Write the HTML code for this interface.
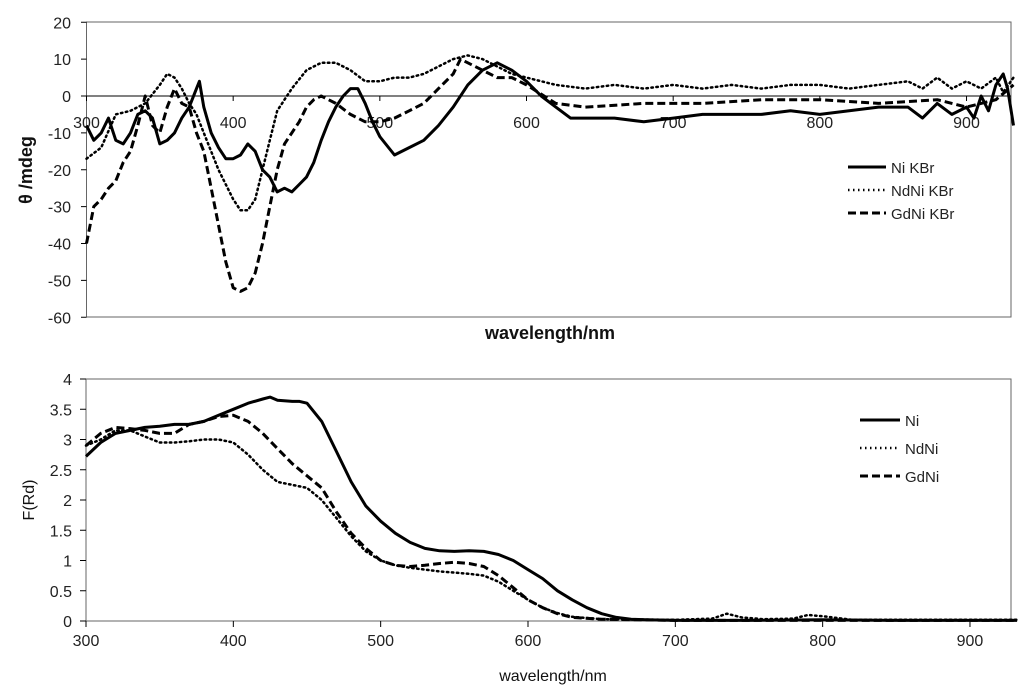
<!DOCTYPE html>
<html><head><meta charset="utf-8"><style>
html,body{margin:0;padding:0;background:#fff;}
svg{display:block;font-family:"Liberation Sans",sans-serif;}
</style></head><body>
<svg id="chart" width="1024" height="692" viewBox="0 0 1024 692" xmlns="http://www.w3.org/2000/svg">
<rect x="0" y="0" width="1024" height="692" fill="#fff"/>
<g id="top"></g>
<g id="bot"></g>
</svg>
<script>
// ---- top chart data (CD) ----
const niKBrX = [300,305,310,315,320,325,330,335,340,345,350,355,360,365,370,375,377,380,385,390,395,400,405,410,415,420,425,430,435,440,445,450,455,460,465,470,475,480,485,490,495,500,510,520,530,540,550,560,570,580,590,600,610,620,630,640,660,680,700,720,740,760,780,800,820,840,860,870,880,890,900,905,910,915,920,925,928,932];
const niKBrY = [-8,-12,-10,-6,-12,-13,-10,-5,-4,-6,-13,-12,-10,-6,-3,2,4,-3,-10,-14,-17,-17,-16,-13,-15,-20,-22,-26,-25,-26,-24,-22,-18,-12,-7,-3,0,2,2,-2,-7,-11,-16,-14,-12,-8,-3,3,7,9,7,4,0,-3,-6,-6,-6,-7,-6,-5,-5,-5,-4,-5,-4,-3,-3,-6,-2,-5,-3,-6,0,-4,3,6,2,-8];
const ndKBrX = [300,310,320,330,340,350,355,360,365,370,375,380,390,400,405,410,415,420,425,430,440,450,460,470,480,490,500,510,520,530,540,550,560,570,580,590,600,620,640,660,680,700,720,740,760,780,800,820,840,860,870,880,890,900,910,920,925,932];
const ndKBrY = [-17,-14,-5,-4,-2,3,6,5,2,-2,-5,-10,-20,-28,-31,-31,-28,-20,-12,-4,2,7,9,9,7,4,4,5,5,6,8,10,11,10,8,6,5,3,2,3,2,3,2,3,2,3,3,2,3,4,2,5,2,4,2,5,1,5];
const gdKBrX = [300,305,310,315,320,325,330,335,340,345,350,355,360,365,370,375,380,385,390,395,400,405,410,415,420,425,430,435,440,445,450,455,460,470,480,490,500,510,520,530,540,550,555,560,570,580,590,600,620,640,680,720,760,800,840,880,900,920,932];
const gdKBrY = [-40,-30,-28,-25,-23,-18,-15,-8,0,-8,-10,-3,2,-2,-3,-10,-15,-25,-35,-45,-52,-53,-52,-48,-40,-30,-20,-13,-10,-7,-3,-1,0,-2,-5,-7,-7,-6,-4,-2,2,6,10,9,7,5,5,3,-2,-3,-2,-2,-1,-1,-2,-1,-3,-1,3];
const topYTicks = [20,10,0,-10,-20,-30,-40,-50,-60];
const topXTicks = [300,400,500,600,700,800,900];
// ---- bottom chart data (F(Rd)) ----
const niX = [300,310,320,330,340,350,360,370,380,390,400,410,420,425,430,440,445,450,460,470,480,490,500,510,520,530,540,550,560,570,580,590,600,610,620,630,640,650,660,670,680,700,750,800,850,900,932];
const niY = [2.72,2.95,3.1,3.15,3.2,3.22,3.25,3.25,3.3,3.4,3.5,3.6,3.67,3.7,3.65,3.63,3.63,3.6,3.3,2.8,2.3,1.9,1.65,1.45,1.3,1.2,1.16,1.15,1.16,1.15,1.1,1.0,0.85,0.7,0.5,0.35,0.22,0.12,0.06,0.03,0.02,0.01,0.01,0.02,0.01,0.01,0.01];
const ndX = [300,310,320,330,340,350,360,370,380,390,400,410,420,430,440,450,460,470,480,490,500,510,520,530,540,550,560,570,580,590,600,610,620,630,650,700,725,735,745,760,780,790,800,820,860,900,932];
const ndY = [2.9,3.0,3.15,3.15,3.05,2.95,2.95,2.97,3.0,3.0,2.95,2.75,2.5,2.3,2.25,2.2,2.0,1.7,1.4,1.15,1.0,0.92,0.88,0.85,0.82,0.8,0.78,0.75,0.65,0.5,0.35,0.22,0.13,0.07,0.03,0.02,0.04,0.12,0.06,0.03,0.04,0.1,0.08,0.02,0.02,0.02,0.02];
const gdX = [300,310,320,330,340,350,360,370,380,390,400,410,420,430,440,450,460,470,480,490,500,510,520,530,540,550,560,570,580,590,600,610,620,630,650,700,800,932];
const gdY = [2.9,3.1,3.2,3.18,3.15,3.1,3.1,3.25,3.3,3.38,3.4,3.3,3.1,2.85,2.6,2.4,2.2,1.8,1.45,1.2,1.0,0.92,0.9,0.92,0.95,0.97,0.95,0.9,0.75,0.55,0.35,0.22,0.12,0.06,0.03,0.01,0.01,0.01];
const botYTicks = [0,0.5,1,1.5,2,2.5,3,3.5,4];
const botXTicks = [300,400,500,600,700,800,900];

const NS='http://www.w3.org/2000/svg';
function mk(parent,tag,attrs,txt){const e=document.createElementNS(NS,tag);for(const k in attrs)e.setAttribute(k,attrs[k]);if(txt!==undefined)e.textContent=txt;parent.appendChild(e);return e;}
const styles={solid:{w:3,d:''},dot:{w:2.5,d:'1.5 3.5'},dash:{w:3,d:'8 4'}};

// top chart
const T=document.getElementById('top');
const tx=v=>86.5+(v-300)*1.4667, ty=v=>96-(v)*3.6875;
let r=mk(T,'rect',{x:86.5,y:22,width:924.5,height:295,fill:'none',stroke:'#666','stroke-width':1});

let z=mk(T,'line',{x1:86.5,x2:1011,y1:ty(0),y2:ty(0),stroke:'#000','stroke-width':1});

topYTicks.forEach(v=>{
  let l=mk(T,'line',{x1:81,x2:86.5,y1:ty(v),y2:ty(v),stroke:'#000'});
  
  let t=mk(T,'text',{x:71,y:ty(v)+6,'text-anchor':'end','font-size':16,fill:'#222'},String(v));
  
});
topXTicks.forEach(v=>{
  let l=mk(T,'line',{x1:tx(v),x2:tx(v),y1:ty(0),y2:ty(0)+5,stroke:'#000'});
  
  let t=mk(T,'text',{x:tx(v),y:ty(0)+32,'text-anchor':'middle','font-size':16,fill:'#222'},String(v));
  
});
function series(G,xs,ys,fx,fy,st,name){
  const s=styles[st];
  let p=mk(G,'path',{d:xs.map((x,i)=>(i?'L':'M')+fx(x).toFixed(1)+','+fy(ys[i]).toFixed(1)).join(''),fill:'none',stroke:'#000','stroke-width':s.w,'stroke-dasharray':s.d,'stroke-linejoin':'round','stroke-linecap':st==='dot'?'round':'butt'});
  
}
series(T,niKBrX,niKBrY,tx,ty,'solid','ni-kbr-line');
series(T,ndKBrX,ndKBrY,tx,ty,'dot','ndni-kbr-line');
series(T,gdKBrX,gdKBrY,tx,ty,'dash','gdni-kbr-line');
let xt=mk(T,'text',{x:550,y:339,'text-anchor':'middle','font-size':18,'font-weight':'bold',fill:'#111'},'wavelength/nm');

let yt=mk(T,'text',{x:0,y:0,transform:'translate(32,170) rotate(-90)','text-anchor':'middle','font-size':18,'font-weight':'bold',fill:'#111'},'θ /mdeg');

[['Ni KBr','solid'],['NdNi KBr','dot'],['GdNi KBr','dash']].forEach((e,i)=>{
  const y=167+i*23;const s=styles[e[1]];
  let l=mk(T,'line',{x1:848,x2:886,y1:y,y2:y,stroke:'#000','stroke-width':s.w,'stroke-dasharray':s.d});
  
  let t=mk(T,'text',{x:891,y:y+6,'font-size':15,fill:'#222'},e[0]);
  
});

// bottom chart
const B=document.getElementById('bot');
const bx=v=>86+(v-300)*1.4733, by=v=>621-v*60.5;
let r2=mk(B,'rect',{x:86,y:379,width:925,height:242,fill:'none',stroke:'#666','stroke-width':1});

botYTicks.forEach(v=>{
  let l=mk(B,'line',{x1:80,x2:86,y1:by(v),y2:by(v),stroke:'#000'});
  
  let t=mk(B,'text',{x:72,y:by(v)+6,'text-anchor':'end','font-size':16,fill:'#222'},String(v));
  
});
botXTicks.forEach(v=>{
  let l=mk(B,'line',{x1:bx(v),x2:bx(v),y1:621,y2:627,stroke:'#000'});
  
  let t=mk(B,'text',{x:bx(v),y:646,'text-anchor':'middle','font-size':16,fill:'#222'},String(v));
  
});
series(B,niX,niY,bx,by,'solid','ni-line');
series(B,ndX,ndY,bx,by,'dot','ndni-line');
series(B,gdX,gdY,bx,by,'dash','gdni-line');
let xt2=mk(B,'text',{x:553,y:681,'text-anchor':'middle','font-size':16,fill:'#111'},'wavelength/nm');

let yt2=mk(B,'text',{x:0,y:0,transform:'translate(34,500) rotate(-90)','text-anchor':'middle','font-size':16,fill:'#111'},'F(Rd)');

[['Ni','solid'],['NdNi','dot'],['GdNi','dash']].forEach((e,i)=>{
  const y=420+i*28;const s=styles[e[1]];
  let l=mk(B,'line',{x1:860,x2:900,y1:y,y2:y,stroke:'#000','stroke-width':s.w,'stroke-dasharray':s.d});
  
  let t=mk(B,'text',{x:905,y:y+6,'font-size':15,fill:'#222'},e[0]);
  
});
</script>
</body></html>
